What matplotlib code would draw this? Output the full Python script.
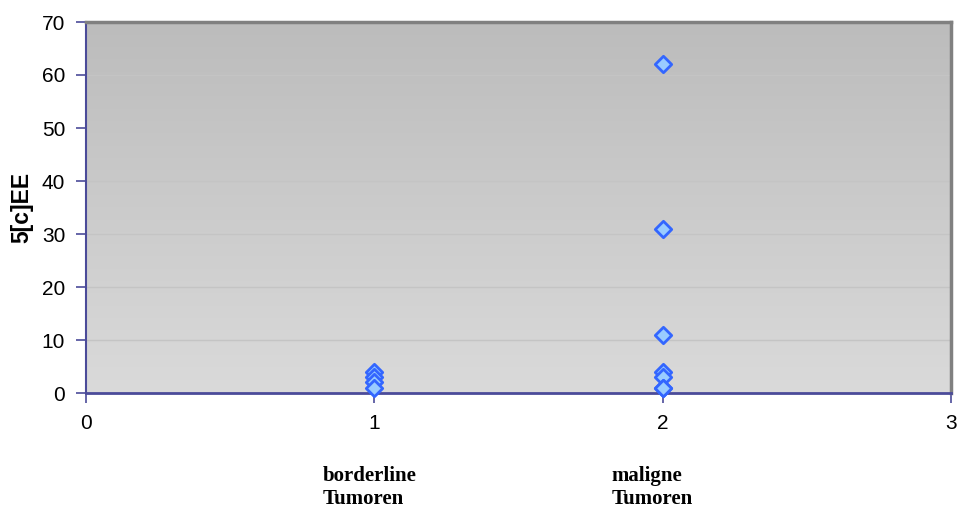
import numpy as np
import matplotlib
matplotlib.use("Agg")
import matplotlib.pyplot as plt

# Measured 5[c]EE values per tumour group
borderline_x = [1, 1, 1, 1]
borderline_y = [4, 3, 2, 1]
maligne_x = [2, 2, 2, 2, 2, 2, 2]
maligne_y = [62, 31, 11, 4, 3, 1, 1]

x_ticks = [0, 1, 2, 3]
y_ticks = [0, 10, 20, 30, 40, 50, 60, 70]
group_labels = ["borderline\nTumoren", "maligne\nTumoren"]
group_pos = [1, 2]

fig = plt.figure(figsize=(9.61, 5.11), dpi=100)
ax = fig.add_axes([86 / 961, 1 - 393 / 511, (951 - 86) / 961, (393 - 22) / 511])

ax.set_xlim(0, 3)
ax.set_ylim(0, 70)

# vertical grey gradient background
grad = np.linspace(0, 1, 256).reshape(-1, 1)
top = np.array([0.737, 0.737, 0.737])
bot = np.array([0.855, 0.855, 0.855])
img = top + (bot - top) * grad[..., None]
ax.imshow(img, extent=[0, 1, 0, 1], transform=ax.transAxes, aspect="auto",
          zorder=0, interpolation="bicubic")

for yv in y_ticks[1:-1]:
    ax.axhline(yv, color="#c4c4c4", lw=1.0, zorder=1)

marker_kw = dict(marker="D", s=70, facecolor="#99ccff", edgecolor="#3366ff",
                 linewidths=2.0, zorder=5, clip_on=False)
ax.scatter(borderline_x, borderline_y, **marker_kw)
ax.scatter(maligne_x, maligne_y, **marker_kw)

ax.set_xticks(x_ticks)
ax.set_yticks(y_ticks)
ax.tick_params(axis="both", direction="out", color="#4b4b99", length=7,
               width=1.2, labelsize=15)
ax.tick_params(axis="y", pad=8)
ax.tick_params(axis="x", pad=8)
for lbl in ax.get_xticklabels() + ax.get_yticklabels():
    lbl.set_fontfamily("Liberation Sans")

ax.spines["left"].set_color("#4b4b99")
ax.spines["bottom"].set_color("#4b4b99")
ax.spines["left"].set_linewidth(1.5)
ax.spines["bottom"].set_linewidth(2.0)
ax.spines["top"].set_color("#808080")
ax.spines["right"].set_color("#808080")
ax.spines["top"].set_linewidth(2.5)
ax.spines["right"].set_linewidth(2.5)

ax.set_ylabel("5[c]EE", fontsize=16.5, fontweight="bold",
              fontfamily="Liberation Sans", labelpad=6)

for pos, text in zip(group_pos, group_labels):
    ax.text(pos - 0.178, -13.8, text, ha="left", va="top", fontsize=15,
            fontweight="bold", fontfamily="Liberation Serif",
            linespacing=1.2, transform=ax.transData, clip_on=False)

fig.savefig("out.png", dpi=100, facecolor="white")
